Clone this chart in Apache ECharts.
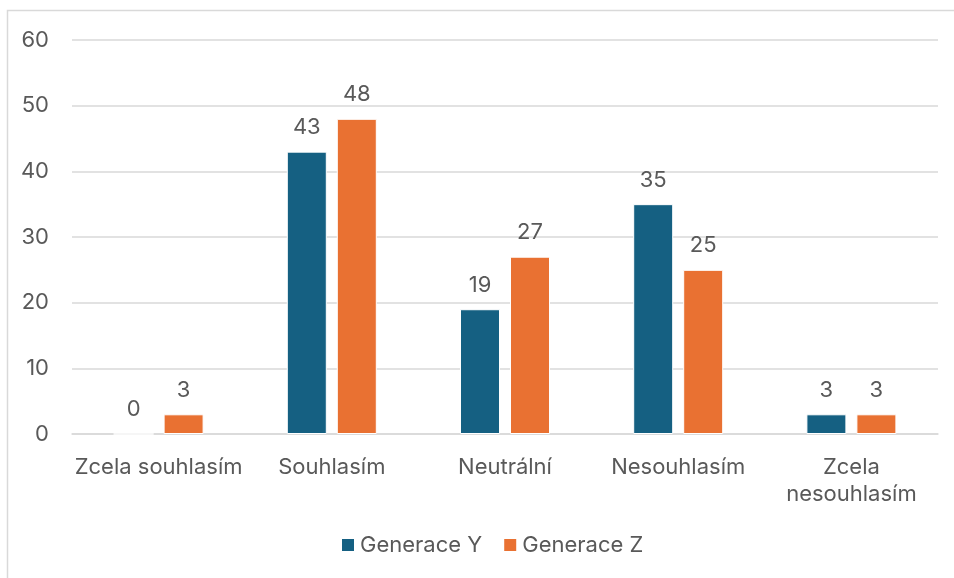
<!DOCTYPE html>
<html>
<head>
<meta charset="utf-8">
<script src="https://cdn.jsdelivr.net/npm/echarts@6/dist/echarts.min.js"></script>
<style>
  html, body { margin: 0; padding: 0; background: #fff; }
  #chart { width: 954px; height: 578px; }
</style>
</head>
<body>
<div id="chart"></div>
<script>
// data
var categories = ["Zcela souhlasím", "Souhlasím", "Neutrální", "Nesouhlasím", "Zcela\nnesouhlasím"];
var seriesNames = ["Generace Y", "Generace Z"];
var genY = [0, 43, 19, 35, 3];
var genZ = [3, 48, 27, 25, 3];

var chart = echarts.init(document.getElementById("chart"));
var textColor = "#595959";
var font = "Inter, 'Noto Sans', sans-serif";

var labelOption = {
  show: true,
  position: "top",
  distance: 13,
  color: textColor,
  fontSize: 22,
  fontFamily: font
};

var option = {
  color: ["#156082", "#E97132"],
  textStyle: { fontFamily: font },
  graphic: [
    {
      type: "rect",
      shape: { x: 7.5, y: 10.5, width: 960, height: 580 },
      style: { fill: "none", stroke: "#d9d9d9", lineWidth: 1.5 },
      silent: true
    }
  ],
  legend: {
    data: seriesNames,
    bottom: 17,
    left: 335,
    itemWidth: 14,
    itemHeight: 14,
    itemGap: 20,
    icon: "rect",
    textStyle: { color: textColor, fontSize: 22, fontFamily: font }
  },
  grid: { left: 72, right: 16, top: 40, bottom: 144 },
  xAxis: {
    type: "category",
    data: categories,
    axisTick: { show: false },
    axisLine: { lineStyle: { color: "#d9d9d9", width: 1.5 } },
    axisLabel: {
      color: textColor,
      fontSize: 22,
      fontFamily: font,
      margin: 20,
      lineHeight: 27,
      interval: 0
    }
  },
  yAxis: {
    type: "value",
    min: 0,
    max: 60,
    interval: 10,
    axisLine: { show: false },
    axisTick: { show: false },
    splitLine: { lineStyle: { color: "#d9d9d9", width: 1.5 } },
    axisLabel: {
      color: textColor,
      fontSize: 22,
      fontFamily: font,
      margin: 23
    }
  },
  series: [
    {
      name: seriesNames[0],
      type: "bar",
      barWidth: 40,
      barGap: "25%",
      itemStyle: { borderColor: "#fff", borderWidth: 1 },
      label: labelOption,
      data: genY
    },
    {
      name: seriesNames[1],
      type: "bar",
      barWidth: 40,
      itemStyle: { borderColor: "#fff", borderWidth: 1 },
      label: labelOption,
      data: genZ
    }
  ]
};

chart.setOption(option);
</script>
</body>
</html>
